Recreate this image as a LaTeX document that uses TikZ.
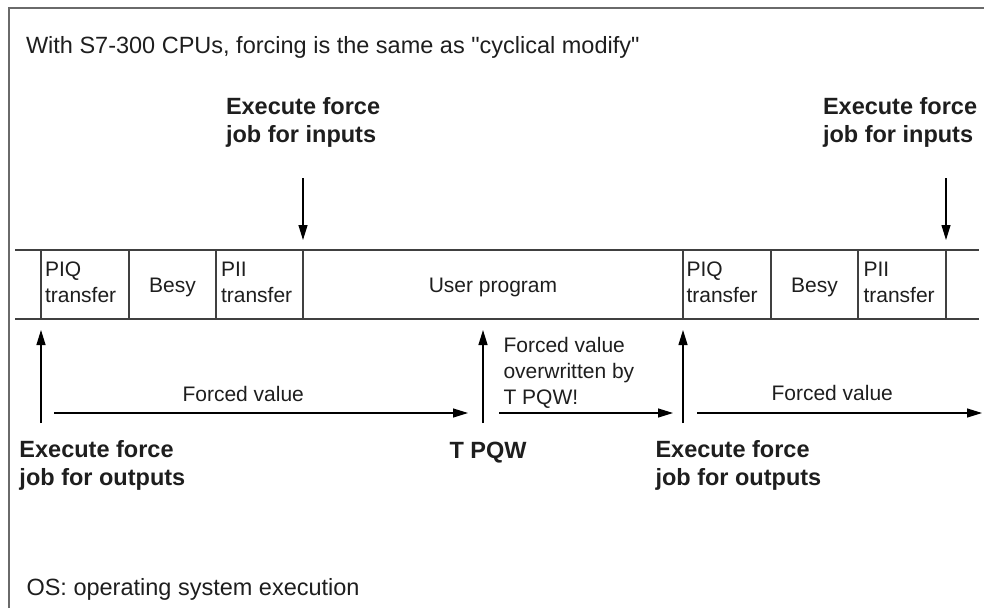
\documentclass[tikz,border=0pt]{standalone}
\usepackage{fontspec}
\setmainfont{Liberation Sans}[Ligatures=TeXOff]
\usetikzlibrary{arrows.meta}
\definecolor{ink}{HTML}{1E1E1E}
\definecolor{rulec}{HTML}{404040}
\definecolor{framec}{HTML}{6A6A6A}
\begin{document}
\begin{tikzpicture}[x=1pt,y=-1pt,
  every node/.style={inner sep=0pt, outer sep=0pt, text=ink},
  small/.style={font=\fontsize{21}{26}\selectfont, align=left},
  big/.style={font=\fontsize{23.5}{28}\selectfont},
  boldlbl/.style={font=\bfseries\fontsize{23.5}{28}\selectfont, align=left},
  cell/.style={draw=rulec, line width=1.4pt, minimum height=69pt, anchor=north west},
  bandline/.style={draw=rulec, line width=1.4pt},
  arr/.style={draw=black, line width=1.2pt, -{Triangle[length=15pt,width=9pt]}}]
\useasboundingbox (0,0) rectangle (984,608);
% frame
\draw[framec, line width=2pt] (9,608) -- (9,8) -- (984,8);
% title and footnote
\node[big, anchor=base west] (title) at (26,53) {With S7-300 CPUs, forcing is the same as "cyclical modify"};
\node[big, anchor=base west] (os) at (26.5,595) {OS: operating system execution};
% band cells
\node[cell, minimum width=88pt] (piqA) at (41,250) {};
\node[cell, minimum width=87pt] (besyA) at (129,250) {};
\node[cell, minimum width=87pt] (piiA) at (216,250) {};
\node[cell, minimum width=380pt] (user) at (303,250) {};
\node[cell, minimum width=88pt] (piqB) at (683,250) {};
\node[cell, minimum width=87pt] (besyB) at (771,250) {};
\node[cell, minimum width=88pt] (piiB) at (858,250) {};
\coordinate (bandTL) at (15,250);
\coordinate (bandBL) at (15,319);
\coordinate (bandTR) at (979,250);
\coordinate (bandBR) at (979,319);
\draw[bandline] (bandTL) -- (piqA.north west);
\draw[bandline] (bandBL) -- (piqA.south west);
\draw[bandline] (piiB.north east) -- (bandTR);
\draw[bandline] (piiB.south east) -- (bandBR);
% cell texts
\node[small, anchor=north west] (piqAt) at (45,261.6) {PIQ\\transfer};
\node[small, anchor=base] (besyAt) at (172.5,292) {Besy};
\node[small, anchor=north west] (piiAt) at (221,262) {PII\\transfer};
\node[small, anchor=base] (usert) at (493,292) {User program};
\node[small, anchor=north west] (piqBt) at (686.5,261.6) {PIQ\\transfer};
\node[small, anchor=base] (besyBt) at (814.5,292) {Besy};
\node[small, anchor=north west] (piiBt) at (863.5,262) {PII\\transfer};
% input force labels and arrows
\node[boldlbl, anchor=north west] (inLblA) at (226,97.8) {Execute force\\job for inputs};
\node[boldlbl, anchor=north west] (inLblB) at (823,97.8) {Execute force\\job for inputs};
\coordinate (inA) at (303,178);
\coordinate (inB) at (946,178);
\draw[arr, shorten >=10pt] (inA) -- (piiA.north east);
\draw[arr, shorten >=10pt] (inB) -- (piiB.north east);
% output force arrows
\coordinate (outA) at (41,423);
\coordinate (tq) at (483,423);
\coordinate (outB) at (683,423);
\draw[arr, shorten >=11pt] (outA) -- (piqA.south west);
\draw[arr, shorten >=11pt] (tq) -- (tq |- user.south);
\draw[arr, shorten >=11pt] (outB) -- (piqB.south west);
% forced value arrows
\coordinate (f1s) at (54,413);
\coordinate (f1e) at (468,413);
\coordinate (f2s) at (499,413);
\coordinate (f2e) at (673,413);
\coordinate (f3s) at (697,413);
\coordinate (f3e) at (982,413);
\draw[arr] (f1s) -- (f1e);
\draw[arr] (f2s) -- (f2e);
\draw[arr] (f3s) -- (f3e);
\node[small, anchor=base west] (fvA) at (182.5,401) {Forced value};
\node[small, anchor=north west] (fvOver) at (503.5,337.7) {Forced value\\overwritten by\\T PQW!};
\node[small, anchor=base west] (fvB) at (771.5,400) {Forced value};
% output labels
\node[boldlbl, anchor=north west] (outLblA) at (19.5,440.8) {Execute force\\job for outputs};
\node[boldlbl, anchor=base west] (tpqwLbl) at (449.5,458) {T PQW};
\node[boldlbl, anchor=north west] (outLblB) at (655.5,440.8) {Execute force\\job for outputs};
\end{tikzpicture}
\end{document}
